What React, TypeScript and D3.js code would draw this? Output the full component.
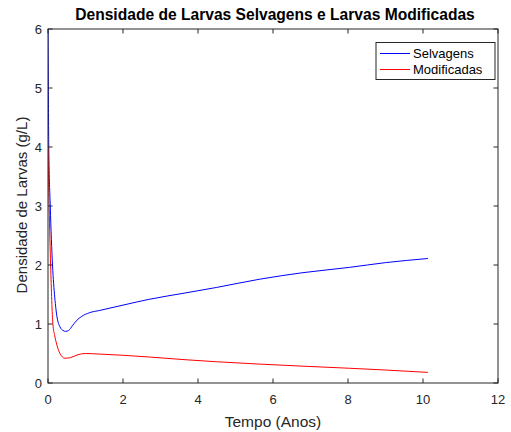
import React from "react";
import * as d3 from "d3";

const titleText = "Densidade de Larvas Selvagens e Larvas Modificadas";
const xLabel = "Tempo (Anos)";
const yLabel = "Densidade de Larvas (g/L)";
const seriesNames = ["Selvagens", "Modificadas"];

const xTicks = [0, 2, 4, 6, 8, 10, 12];
const yTicks = [0, 1, 2, 3, 4, 5, 6];

const selvagensT = [0, 0.01, 0.02, 0.06, 0.12, 0.18, 0.24, 0.32, 0.4, 0.47, 0.55, 0.65, 0.75, 0.9, 1.1, 1.38, 2, 2.71, 3.65, 4.5, 5.65, 6.8, 8.04, 9, 10.13];
const selvagensV = [6.0, 5.0, 4.0, 3.0, 2.0, 1.45, 1.12, 0.95, 0.89, 0.875, 0.89, 0.97, 1.05, 1.13, 1.19, 1.23, 1.32, 1.42, 1.525, 1.62, 1.76, 1.87, 1.96, 2.04, 2.11];

const modificadasT = [0, 0.03, 0.07, 0.13, 0.18, 0.23, 0.32, 0.45, 0.6, 0.8, 1.0, 1.38, 2, 2.71, 3.65, 4.5, 5.65, 6.8, 8.04, 9, 10.13];
const modificadasV = [4.0, 3.0, 2.0, 1.0, 0.8, 0.66, 0.5, 0.42, 0.43, 0.48, 0.5, 0.49, 0.47, 0.44, 0.395, 0.36, 0.32, 0.285, 0.25, 0.22, 0.18];

const colors = ["#0000ff", "#ff0000"];

export default function App() {
  const W = 511, H = 432;
  const left = 48, right = 498, top = 29, bottom = 383;
  const x = d3.scaleLinear().domain([0, 12]).range([left, right]);
  const y = d3.scaleLinear().domain([0, 6]).range([bottom, top]);
  const axisColor = "#262626";
  const font = "'Liberation Sans', Arial, Helvetica, sans-serif";
  const tl = 4.5;

  const mk = (ts: number[], vs: number[]) =>
    d3.line<number>()
      .x((_, i) => x(ts[i]))
      .y((v) => y(v))
      .curve(d3.curveMonotoneX)(vs) || "";

  const paths = [mk(selvagensT, selvagensV), mk(modificadasT, modificadasV)];

  const legX = 376, legY = 42.5, legW = 119, legH = 37;

  return (
    <svg width={W} height={H} style={{ position: "absolute", left: 0, top: 0, background: "#fff" }} fontFamily={font}>
      <rect x={0} y={0} width={W} height={H} fill="#fff" />
      <defs>
        <clipPath id="plotclip">
          <rect x={left} y={top} width={right - left} height={bottom - top} />
        </clipPath>
      </defs>
      <g clipPath="url(#plotclip)">
        {paths.map((p, i) => (
          <path key={i} d={p} fill="none" stroke={colors[i]} strokeWidth={1} />
        ))}
      </g>
      <rect x={left} y={top} width={right - left} height={bottom - top} fill="none" stroke={axisColor} strokeWidth={1} />
      {xTicks.map((t) => (
        <g key={"x" + t}>
          <line x1={x(t)} x2={x(t)} y1={bottom} y2={bottom - tl} stroke={axisColor} />
          <line x1={x(t)} x2={x(t)} y1={top} y2={top + tl} stroke={axisColor} />
          <text x={x(t)} y={bottom + 21} textAnchor="middle" fontSize={13} fill={axisColor}>{t}</text>
        </g>
      ))}
      {yTicks.map((t) => (
        <g key={"y" + t}>
          <line x1={left} x2={left + tl} y1={y(t)} y2={y(t)} stroke={axisColor} />
          <line x1={right} x2={right - tl} y1={y(t)} y2={y(t)} stroke={axisColor} />
          <text x={left - 6} y={y(t) + 4.5} textAnchor="end" fontSize={13} fill={axisColor}>{t}</text>
        </g>
      ))}
      <text x={(left + right) / 2} y={427} textAnchor="middle" fontSize={15.5} fill={axisColor}>{xLabel}</text>
      <text transform={`translate(27,${(top + bottom) / 2 - 1}) rotate(-90)`} textAnchor="middle" fontSize={15} fill={axisColor}>{yLabel}</text>
      <text x={(left + right) / 2 + 2} y={19.5} textAnchor="middle" fontSize={15.6} fontWeight="bold" fill="#000">{titleText}</text>
      <rect x={legX} y={legY} width={legW} height={legH} fill="#fff" stroke={axisColor} strokeWidth={1} />
      {seriesNames.map((n, i) => (
        <g key={n}>
          <line x1={legX + 4} x2={legX + 34} y1={legY + 11 + i * 16} y2={legY + 11 + i * 16} stroke={colors[i]} strokeWidth={1} />
          <text x={legX + 37} y={legY + 15.5 + i * 16} fontSize={13} fill="#000">{n}</text>
        </g>
      ))}
    </svg>
  );
}
